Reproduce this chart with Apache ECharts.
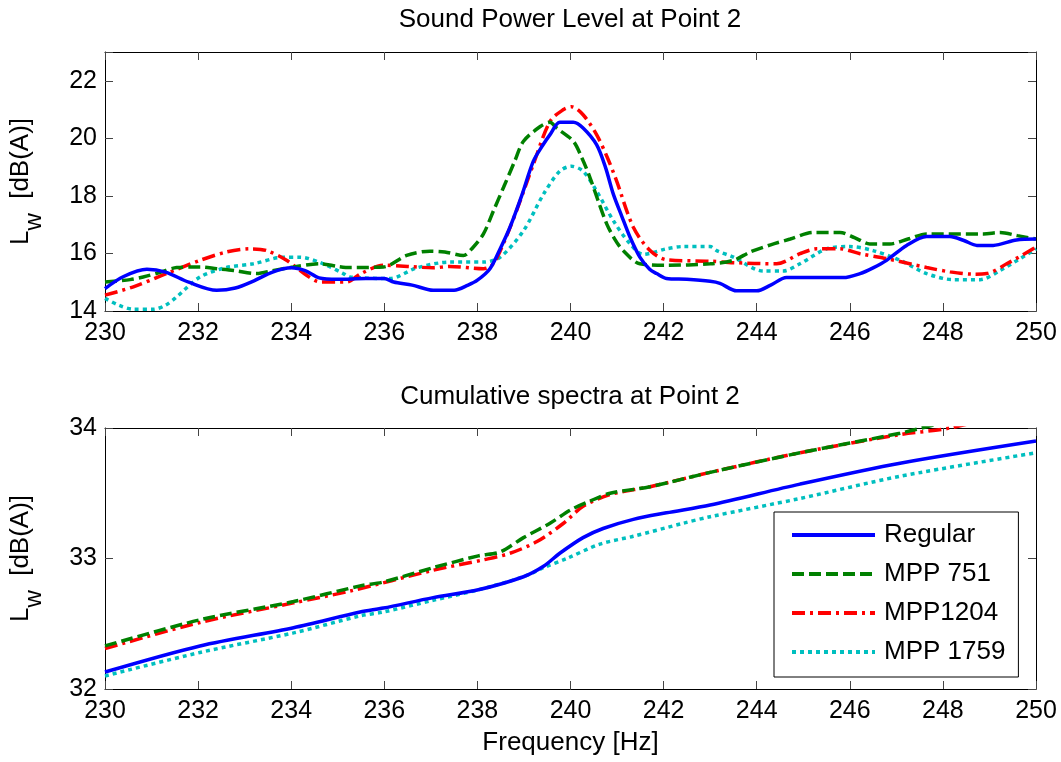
<!DOCTYPE html>
<html><head><meta charset="utf-8">
<script src="https://cdn.jsdelivr.net/npm/echarts@6/dist/echarts.min.js"></script>
<style>html,body{margin:0;padding:0;background:#fff}#c{width:1061px;height:762px}</style>
</head><body><div id="c"></div>
<script>
// ---- data ----
const seriesNames = ['Regular', 'MPP 751', 'MPP1204', 'MPP 1759'];
const xTicks = [230, 232, 234, 236, 238, 240, 242, 244, 246, 248, 250];
const topTitle = 'Sound Power Level at Point 2';
const bottomTitle = 'Cumulative spectra at Point 2';

// Sound power level (top) [frequency Hz, dB(A)]
const splRegular = [[230.0,14.78],[230.4,15.2],[230.9,15.45],[231.3,15.35],[231.8,15.0],[232.4,14.72],[232.8,14.8],[233.2,15.05],[233.6,15.35],[234.0,15.5],[234.3,15.4],[234.6,15.15],[235.0,15.1],[235.6,15.13],[236.0,15.13],[236.2,15.01],[236.6,14.9],[237.05,14.72],[237.5,14.72],[237.8,14.9],[238.0,15.07],[238.27,15.47],[238.5,16.2],[238.7,16.91],[238.95,18.0],[239.2,19.2],[239.4,19.75],[239.56,20.13],[239.77,20.56],[240.06,20.56],[240.27,20.36],[240.56,19.78],[240.75,19.0],[240.92,18.06],[241.1,17.3],[241.28,16.56],[241.49,15.87],[241.7,15.45],[241.85,15.3],[242.06,15.13],[242.5,15.1],[243.0,15.03],[243.21,14.96],[243.57,14.7],[244.0,14.7],[244.3,14.9],[244.64,15.16],[245.0,15.16],[245.86,15.16],[246.22,15.3],[246.5,15.5],[246.79,15.76],[247.22,16.28],[247.65,16.59],[248.15,16.59],[248.45,16.45],[248.73,16.28],[249.08,16.28],[249.58,16.47],[250.0,16.5]];
const splMpp751 = [[230.0,15.01],[230.54,15.09],[230.82,15.18],[231.2,15.35],[231.54,15.51],[232.04,15.53],[232.4,15.47],[232.76,15.41],[233.26,15.3],[233.6,15.4],[234.05,15.53],[234.62,15.64],[235.0,15.55],[235.26,15.51],[235.98,15.53],[236.48,15.93],[236.98,16.08],[237.3,16.05],[237.7,15.93],[237.9,16.2],[238.13,16.68],[238.35,17.5],[238.56,18.29],[238.8,19.2],[238.99,19.9],[239.35,20.41],[239.56,20.56],[239.7,20.36],[240.06,19.9],[240.25,19.3],[240.42,18.63],[240.6,17.8],[240.78,17.02],[240.95,16.5],[241.13,16.1],[241.49,15.64],[242.06,15.59],[243.0,15.64],[243.5,15.76],[243.86,16.05],[244.3,16.3],[244.72,16.5],[245.22,16.73],[245.79,16.73],[246.1,16.55],[246.43,16.33],[246.86,16.33],[247.25,16.5],[247.65,16.68],[248.87,16.68],[249.23,16.73],[249.6,16.62],[250.0,16.5]];
const splMpp1204 = [[230.0,14.55],[230.61,14.84],[231.32,15.3],[232.04,15.76],[232.61,16.05],[233.11,16.16],[233.47,16.1],[233.9,15.76],[234.33,15.24],[234.62,15.01],[235.19,15.01],[235.5,15.3],[235.98,15.59],[236.5,15.55],[237.05,15.5],[237.41,15.55],[238.13,15.47],[238.34,15.64],[238.6,16.5],[238.84,17.48],[239.2,19.09],[239.56,20.59],[239.85,21.0],[240.02,21.1],[240.27,20.82],[240.56,20.13],[240.8,19.3],[240.99,18.52],[241.35,16.91],[241.71,16.1],[242.06,15.78],[243.0,15.73],[243.5,15.68],[244.43,15.64],[244.93,15.99],[245.29,16.16],[245.79,16.16],[246.22,15.99],[246.79,15.82],[247.65,15.51],[248.15,15.36],[248.65,15.28],[248.94,15.3],[249.37,15.64],[250.0,16.22]];
const splMpp1759 = [[230.0,14.44],[230.3,14.2],[230.61,14.06],[231.04,14.06],[231.3,14.2],[231.54,14.49],[232.04,15.18],[232.61,15.51],[233.19,15.64],[233.83,15.87],[234.19,15.87],[234.69,15.64],[235.12,15.3],[235.26,15.18],[236.12,15.13],[236.7,15.5],[237.41,15.7],[238.13,15.7],[238.49,15.87],[238.99,16.79],[239.42,18.06],[239.77,18.86],[240.02,19.03],[240.27,18.86],[240.56,18.17],[240.92,17.14],[241.28,16.33],[241.56,15.97],[242.06,16.16],[242.42,16.24],[243.0,16.24],[243.14,16.1],[243.5,15.87],[244.14,15.39],[244.57,15.39],[244.93,15.64],[245.5,16.16],[246.0,16.24],[246.5,16.1],[247.08,15.76],[247.65,15.3],[248.22,15.09],[248.8,15.09],[249.23,15.41],[250.0,16.16]];

// Cumulative spectra (bottom) [frequency Hz, dB(A)]
const cumRegular = [[230,32.13],[232.04,32.33],[234.05,32.47],[235.48,32.59],[235.98,32.62],[237.05,32.7],[238.02,32.76],[238.99,32.86],[239.42,32.94],[239.77,33.04],[240.27,33.16],[240.7,33.23],[241.35,33.3],[242.06,33.35],[243.0,33.41],[244.93,33.57],[247.08,33.73],[250,33.9]];
const cumMpp751 = [[230,32.33],[232.04,32.53],[234.05,32.67],[235.48,32.79],[235.98,32.82],[237.05,32.93],[238.02,33.02],[238.49,33.05],[238.99,33.16],[239.56,33.27],[239.99,33.37],[240.42,33.44],[240.85,33.5],[241.71,33.55],[243.0,33.66],[244.93,33.81],[247.08,33.96],[248.0,34.04],[250.0,34.2]];
const cumMpp1204 = [[230,32.31],[232.04,32.51],[234.05,32.66],[235.26,32.75],[237.05,32.91],[238.13,32.99],[238.7,33.04],[239.28,33.13],[239.85,33.27],[240.27,33.4],[240.85,33.49],[241.71,33.55],[243.0,33.66],[244.93,33.81],[247.08,33.95],[248.15,34.0],[250,34.16]];
const cumMpp1759 = [[230,32.1],[232.04,32.28],[234.05,32.43],[235.48,32.56],[235.98,32.59],[237.05,32.68],[238.02,32.76],[238.99,32.86],[239.42,32.93],[239.92,33.0],[240.63,33.11],[241.35,33.17],[242.42,33.27],[243.0,33.32],[244.93,33.46],[247.08,33.63],[250,33.81]];

// ---- styles ----
const colors = ['#0000ff', '#008000', '#ff0000', '#00bfbf'];
const dashTypes = ['solid', [12, 5], [13, 5, 3, 5], [4, 4]];
const FONT = '"Liberation Sans", Arial, Helvetica, sans-serif';

const chart = echarts.init(document.getElementById('c'), null, {renderer: 'canvas'});

function xAx(gridIndex, pos, showLabel, name) {
  return {
    type: 'value', gridIndex, position: pos, min: 230, max: 250, interval: 2,
    axisLine: {show: true, onZero: false, lineStyle: {color: '#000', width: 1}},
    axisTick: {show: true, inside: true, length: 8, lineStyle: {color: '#444'}},
    axisLabel: {show: showLabel, margin: 10, color: '#000', fontSize: 25, fontFamily: FONT},
    splitLine: {show: false},
    name: name || '', nameLocation: 'middle', nameGap: 41,
    nameTextStyle: {color: '#000', fontSize: 26, fontFamily: FONT}
  };
}
function yAx(gridIndex, pos, showLabel, min, max, interval) {
  return {
    type: 'value', gridIndex, position: pos, min, max, interval,
    axisLine: {show: true, onZero: false, lineStyle: {color: '#000', width: 1}},
    axisTick: {show: true, inside: true, length: 8, lineStyle: {color: '#444'}},
    axisLabel: {show: showLabel, margin: 8, color: '#000', fontSize: 25, fontFamily: FONT,
      formatter: v => (Math.abs((v - min) / interval - Math.round((v - min) / interval)) < 1e-6 ? String(v) : '')},
    splitLine: {show: false},
    name: showLabel ? '{a|L}{b|w}{a|  [dB(A)]}' : '',
    nameLocation: 'middle', nameRotate: 90, nameGap: 59,
    nameTextStyle: {
      color: '#000', fontFamily: FONT,
      rich: {
        a: {fontSize: 26, fontFamily: FONT, color: '#000'},
        b: {fontSize: 24, fontFamily: FONT, color: '#000', padding: [26, 0, 0, 0]}
      }
    }
  };
}

const allData = [
  [splRegular, splMpp751, splMpp1204, splMpp1759],
  [cumRegular, cumMpp751, cumMpp1204, cumMpp1759]
];
const series = [];
allData.forEach((group, gi) => {
  group.forEach((d, si) => {
    series.push({
      type: 'line', name: seriesNames[si], data: d,
      xAxisIndex: gi * 2, yAxisIndex: gi * 2,
      symbol: 'none', smooth: 0.3, clip: true,
      lineStyle: {color: colors[si], width: 3.5, type: dashTypes[si], cap: 'butt'},
      itemStyle: {color: colors[si]},
      z: 10 - si
    });
  });
});

chart.setOption({
  animation: false,
  backgroundColor: '#fff',
  title: [
    {text: topTitle, left: 565, top: 2, textAlign: 'center',
     textStyle: {fontSize: 26, fontWeight: 'normal', color: '#000', fontFamily: FONT}},
    {text: bottomTitle, left: 565, top: 379, textAlign: 'center',
     textStyle: {fontSize: 26, fontWeight: 'normal', color: '#000', fontFamily: FONT}}
  ],
  grid: [
    {left: 105, right: 25, top: 52, height: 259, containLabel: false},
    {left: 105, right: 25, top: 428, height: 261, containLabel: false}
  ],
  xAxis: [
    xAx(0, 'bottom', true), xAx(0, 'top', false),
    xAx(1, 'bottom', true, 'Frequency [Hz]'), xAx(1, 'top', false)
  ],
  yAxis: [
    yAx(0, 'left', true, 14, 23, 2), yAx(0, 'right', false, 14, 23, 2),
    yAx(1, 'left', true, 32, 34, 1), yAx(1, 'right', false, 32, 34, 1)
  ],
  legend: {
    data: seriesNames, orient: 'vertical', left: 774, top: 512,
    padding: [10, 13, 12, 16], itemGap: 13, itemWidth: 83, itemHeight: 14,
    backgroundColor: '#fff', borderColor: '#000', borderWidth: 1, borderRadius: 0,
    itemStyle: {opacity: 0},
    lineStyle: {width: 4},
    textStyle: {fontSize: 26, color: '#000', fontFamily: FONT, lineHeight: 26, padding: [0, 0, 0, 4]},
    selectedMode: false
  },
  series
});
</script></body></html>
